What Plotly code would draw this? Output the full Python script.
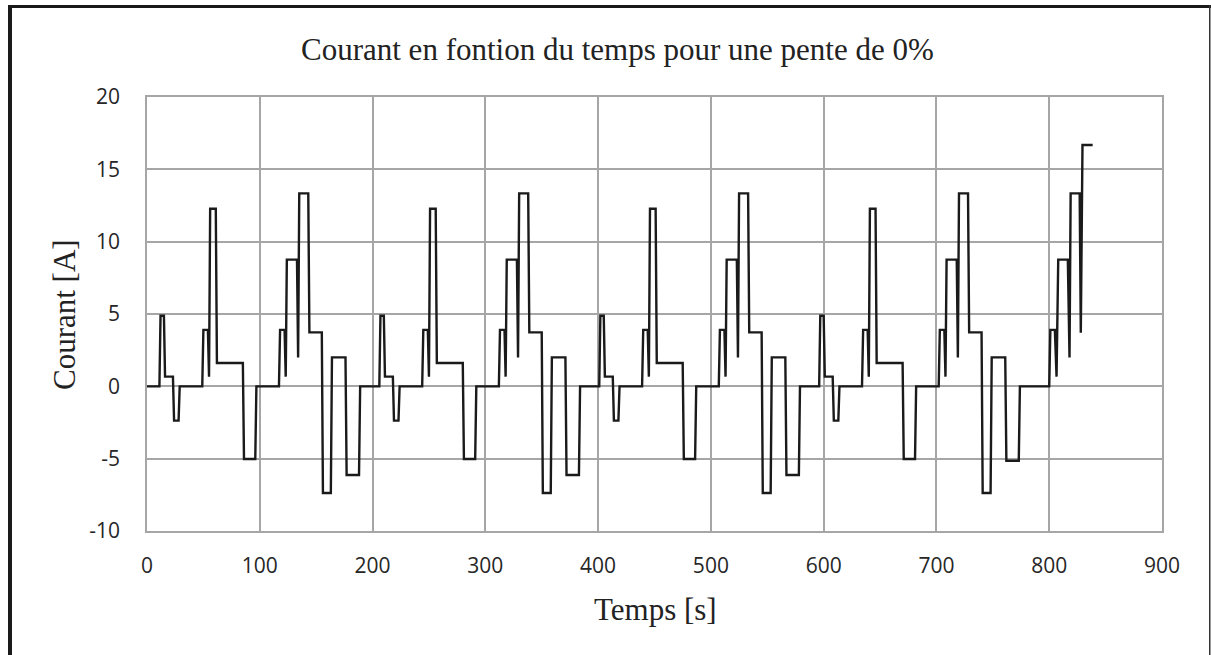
import plotly.graph_objects as go

# ---------------- data ----------------
# One urban (ECE-15) cycle: breakpoints (s) and current (A)
ece_time = [0, 11, 12, 15, 16, 23, 24, 28, 29, 49, 50, 54, 55, 56, 61, 62, 85, 86, 96, 97,
            117, 118, 122, 123, 124, 133, 134, 135, 143, 144, 155, 156, 163, 164, 176, 177,
            188, 189, 195]
ece_current = [0, 0, 4.88, 4.88, 0.67, 0.67, -2.37, -2.37, 0, 0, 3.9, 3.9, 0.67, 12.28, 12.28,
               1.61, 1.61, -5.02, -5.02, 0, 0, 3.9, 3.9, 0.67, 8.76, 8.76, 2.0, 13.34, 13.34,
               3.73, 3.73, -7.37, -7.37, 2.0, 2.0, -6.13, -6.13, 0, 0]
cycle_start = [0, 195, 390, 585]
final_decel_current = [-6.13, -6.13, -6.13, -5.14]

# Start of the extra-urban part
eudc_time = [780, 800, 801, 805, 806.5, 808, 816.5, 818, 819, 827, 828, 829.5, 838.5]
eudc_current = [0, 0, 3.9, 3.9, 0.67, 8.76, 8.76, 2.0, 13.34, 13.34, 3.7, 16.68, 16.68]

x_tick_vals = [0, 100, 200, 300, 400, 500, 600, 700, 800, 900]
x_tick_text = ["0", "100", "200", "300", "400", "500", "600", "700", "800", "900"]
y_tick_vals = [-10, -5, 0, 5, 10, 15, 20]
y_tick_text = ["-10", "-5", "0", "5", "10", "15", "20"]

title_text = "Courant en fontion du temps pour une pente de 0%"
x_title = "Temps [s]"
y_title = "Courant [A]"

# ---------------- build series ----------------
t_all, i_all = [], []
for k, start in enumerate(cycle_start):
    for j, (t, v) in enumerate(zip(ece_time, ece_current)):
        if k > 0 and j == 0:
            continue
        if v == -6.13:
            v = final_decel_current[k]
        t_all.append(start + t)
        i_all.append(v)
for j, (t, v) in enumerate(zip(eudc_time, eudc_current)):
    if j == 0:
        continue
    t_all.append(t)
    i_all.append(v)

# ---------------- layout geometry ----------------
W, H = 1211, 655
L, R, T, B = 147, 1162, 97, 531
PW, PH = R - L, B - T


def px(x):
    return (x - L) / PW


def py(y):
    return (B - y) / PH


fig = go.Figure()
fig.add_trace(go.Scatter(x=t_all, y=i_all, mode="lines",
                         line=dict(color="#1a1a1a", width=2.4), showlegend=False,
                         hoverinfo="x+y"))

grid = "#a6a6a6"
serif = "Liberation Serif, Times New Roman, serif"
sans = "Open Sans, sans-serif"

fig.update_layout(
    width=W, height=H,
    margin=dict(l=L, r=W - R, t=T, b=H - B, pad=0),
    paper_bgcolor="white", plot_bgcolor="white",
    xaxis=dict(range=[0, 900], tickvals=x_tick_vals, ticktext=x_tick_text,
               showgrid=True, gridcolor=grid, gridwidth=1.5, zeroline=False,
               showline=True, linecolor=grid, linewidth=1.5, mirror=True,
               ticks="", ticklabelstandoff=15,
               tickfont=dict(family=sans, size=21, color="#262626")),
    yaxis=dict(range=[-10, 20], tickvals=y_tick_vals, ticktext=y_tick_text,
               showgrid=True, gridcolor=grid, gridwidth=1.5, zeroline=False,
               showline=True, linecolor=grid, linewidth=1.5, mirror=True,
               ticks="", ticklabelstandoff=21,
               tickfont=dict(family=sans, size=21, color="#262626")),
    annotations=[
        dict(text=title_text, x=px(617), y=py(50), xref="paper", yref="paper",
             showarrow=False, xanchor="center", yanchor="middle",
             font=dict(family=serif, size=31, color="#222222")),
        dict(text=x_title, x=px(655), y=py(609), xref="paper", yref="paper",
             showarrow=False, xanchor="center", yanchor="middle",
             font=dict(family=serif, size=31, color="#222222")),
        dict(text=y_title, x=px(64), y=py(315), xref="paper", yref="paper",
             showarrow=False, xanchor="center", yanchor="middle", textangle=-90,
             font=dict(family=serif, size=31, color="#222222")),
    ],
    shapes=[
        dict(type="rect", xref="paper", yref="paper", x0=px(8), x1=px(12),
             y0=py(660), y1=py(5), fillcolor="#1a1a1a", line=dict(width=0), layer="above"),
        dict(type="rect", xref="paper", yref="paper", x0=px(8), x1=px(1211),
             y0=py(8), y1=py(5), fillcolor="#1a1a1a", line=dict(width=0), layer="above"),
        dict(type="rect", xref="paper", yref="paper", x0=px(1209), x1=px(1210.5),
             y0=py(660), y1=py(5), fillcolor="#333333", line=dict(width=0), layer="above"),
    ],
)

fig.write_html("out.html", config={"displayModeBar": False},
               post_script="document.body.style.margin='0';document.body.style.overflow='hidden';")
